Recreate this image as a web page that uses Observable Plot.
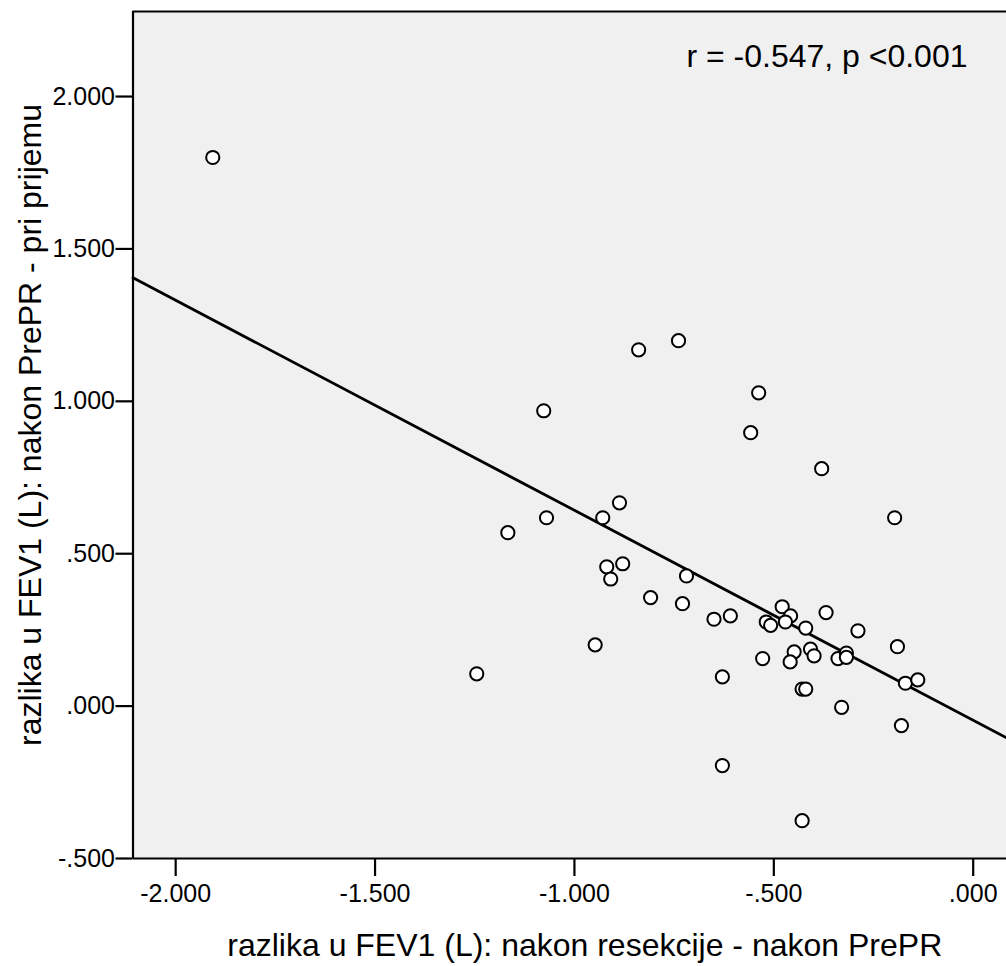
<!DOCTYPE html>
<html>
<head>
<meta charset="utf-8">
<script src="https://cdn.jsdelivr.net/npm/d3@7"></script>
<script src="https://cdn.jsdelivr.net/npm/@observablehq/plot@0.6"></script>
<style>
  html, body { margin: 0; padding: 0; background: #ffffff; }
  #chart svg { display: block; }
</style>
</head>
<body>
<div id="chart"></div>
<script>
// x: razlika u FEV1 (L): nakon resekcije - nakon PrePR
const xValues = [
  -1.907, -0.739, -0.839, -0.538, -1.077, -0.558, -0.380, -0.197, -0.887, -1.070,
  -0.929, -1.167, -0.919, -0.879, -0.909, -0.719, -0.809, -0.729, -0.650, -0.609,
  -0.948, -1.245, -0.479, -0.458, -0.519, -0.508, -0.471, -0.420, -0.369, -0.289,
  -0.190, -0.528, -0.449, -0.459, -0.408, -0.399, -0.339, -0.318, -0.318, -0.629,
  -0.429, -0.420, -0.170, -0.139, -0.330, -0.180, -0.629, -0.429
];
// y: razlika u FEV1 (L): nakon PrePR - pri prijemu
const yValues = [
  1.800, 1.199, 1.169, 1.028, 0.969, 0.897, 0.779, 0.618, 0.667, 0.618,
  0.618, 0.569, 0.457, 0.467, 0.417, 0.427, 0.356, 0.336, 0.285, 0.296,
  0.201, 0.106, 0.326, 0.296, 0.276, 0.265, 0.276, 0.256, 0.307, 0.247,
  0.195, 0.156, 0.178, 0.145, 0.187, 0.165, 0.156, 0.174, 0.160, 0.096,
  0.056, 0.056, 0.075, 0.086, -0.004, -0.064, -0.195, -0.376
];
const xTicks = [-2, -1.5, -1, -0.5, 0];
const yTicks = [-0.5, 0, 0.5, 1, 1.5, 2];
const xDomain = [-2.107, 0.0835];
const yDomain = [-0.5, 2.279];
// fit line
const fitSlope = -0.689;
const fitIntercept = -0.0465;
const annotation = "r = -0.547, p <0.001";
const xTitle = "razlika u FEV1 (L): nakon resekcije - nakon PrePR";
const yTitle = "razlika u FEV1 (L): nakon PrePR - pri prijemu";

const points = xValues.map((x, i) => ({x, y: yValues[i]}));
const fitLine = xDomain.map(x => ({x, y: fitIntercept + fitSlope * x}));
const spssFormat = v => (v < 0 ? "-" : "") + Math.abs(v).toFixed(3).replace(/^0/, "");

const font = "'Liberation Sans', Arial, Helvetica, sans-serif";

const chart = Plot.plot({
  width: 1006,
  height: 966,
  marginLeft: 132.5,
  marginRight: 0,
  marginTop: 11,
  marginBottom: 108,
  style: {fontFamily: font, color: "#000", background: "#ffffff", overflow: "visible"},
  x: {domain: xDomain},
  y: {domain: yDomain},
  marks: [
    Plot.frame({fill: "#f0f0f0", stroke: null}),
    Plot.ruleX([xDomain[0]], {stroke: "#000", strokeWidth: 2.2}),
    Plot.ruleY(yDomain, {stroke: "#000", strokeWidth: 2.2}),
    Plot.axisX({ticks: xTicks, tickFormat: spssFormat, tickSize: 18, tickPadding: 8,
      fontSize: 25, strokeWidth: 2.2, label: null}),
    Plot.axisY({ticks: yTicks, tickFormat: spssFormat, tickSize: 17, tickPadding: 1,
      fontSize: 25, strokeWidth: 2.2, label: null}),
    Plot.line(fitLine, {x: "x", y: "y", stroke: "#000", strokeWidth: 2.8}),
    Plot.dot(points, {x: "x", y: "y", r: 6.6, fill: "#ffffff", stroke: "#000", strokeWidth: 2}),
    Plot.text([annotation], {frameAnchor: "top-right", textAnchor: "end", lineAnchor: "middle",
      dx: -39, dy: 45, fontSize: 32, fill: "#000"}),
    Plot.text([xTitle], {frameAnchor: "bottom", textAnchor: "middle", lineAnchor: "middle", dx: 15, dy: 87,
      fontSize: 32, fill: "#000"}),
    Plot.text([yTitle], {frameAnchor: "left", textAnchor: "middle", rotate: -90, lineAnchor: "middle",
      dx: -102, dy: -10, fontSize: 32, fill: "#000"})
  ]
});
document.getElementById("chart").appendChild(chart);
</script>
</body>
</html>
